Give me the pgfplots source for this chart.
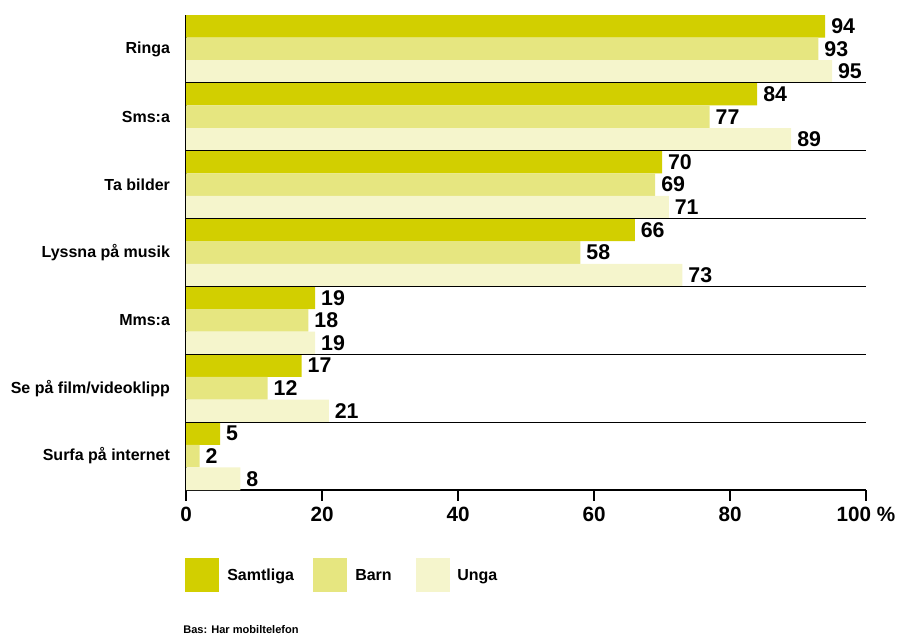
\documentclass[border=0pt]{standalone}
\usepackage{fontspec}
\setmainfont{Liberation Sans}
\usepackage{pgfplots}
\pgfplotsset{compat=1.18}
\definecolor{cSam}{HTML}{D2CF00}
\definecolor{cBarn}{HTML}{E6E680}
\definecolor{cUnga}{HTML}{F5F5CC}
\begin{document}
\begin{tikzpicture}
\useasboundingbox (0,0) rectangle (673.5pt,476.25pt);
\begin{axis}[
  at={(139.5pt,108.75pt)}, anchor=south west,
  scale only axis, width=510pt, height=356.25pt,
  xbar, bar width=0.3333, 
  xmin=0, xmax=100, ymin=-0.5, ymax=6.5,
  y dir=reverse,
  axis x line*=bottom, axis y line*=left,
  axis line style={line width=1.2pt, black},
  xtick={0,20,40,60,80,100},
  xticklabels={0,20,40,60,80,100 \%},
  xtick style={line width=1pt, black},
  tick align=outside, major tick length=8pt,
  /pgf/number format/assume math mode=true,
  xticklabel style={font=\fontsize{15.5}{17}\selectfont\bfseries, yshift=-1pt},
  ytick={0,1,2,3,4,5,6},
  yticklabels={Ringa,Sms:a,Ta bilder,Lyssna på musik,Mms:a,Se på film/videoklipp,Surfa på internet},
  ytick style={draw=none},
  yticklabel style={font=\fontsize{12}{14}\selectfont\bfseries, xshift=-0.5pt},
  nodes near coords,
  every node near coord/.append style={font=\fontsize{16}{18}\selectfont\bfseries, anchor=west, xshift=1pt},
  clip=false,
]
\addplot[fill=cSam, draw=none, bar shift=-0.3333] coordinates {(94,0) (84,1) (70,2) (66,3) (19,4) (17,5) (5,6)};
\addplot[fill=cBarn, draw=none, bar shift=0] coordinates {(93,0) (77,1) (69,2) (58,3) (18,4) (12,5) (2,6)};
\addplot[fill=cUnga, draw=none, bar shift=0.3333] coordinates {(95,0) (89,1) (71,2) (73,3) (19,4) (21,5) (8,6)};
\foreach \yy in {0.5,1.5,2.5,3.5,4.5,5.5} {
  \edef\tmp{\noexpand\draw[black, line width=0.8pt] (axis cs:0,\yy) -- (axis cs:100,\yy);}
  \tmp
}
\end{axis}
% legend
\fill[cSam] (138.75pt,32.25pt) rectangle (164.25pt,57.75pt);
\node[anchor=base west, font=\fontsize{12}{14}\selectfont\bfseries, inner sep=0pt] at (170.25pt,40.7pt) {Samtliga};
\fill[cBarn] (234.75pt,32.25pt) rectangle (260.25pt,57.75pt);
\node[anchor=base west, font=\fontsize{12}{14}\selectfont\bfseries, inner sep=0pt] at (266.25pt,40.7pt) {Barn};
\fill[cUnga] (312pt,32.25pt) rectangle (337.5pt,57.75pt);
\node[anchor=base west, font=\fontsize{12}{14}\selectfont\bfseries, inner sep=0pt] at (342.75pt,40.7pt) {Unga};
\node[anchor=base west, font=\fontsize{8.3}{9}\selectfont\bfseries, inner sep=0pt] at (137.25pt,1pt) {Bas: Har mobiltelefon};
\end{tikzpicture}
\end{document}
